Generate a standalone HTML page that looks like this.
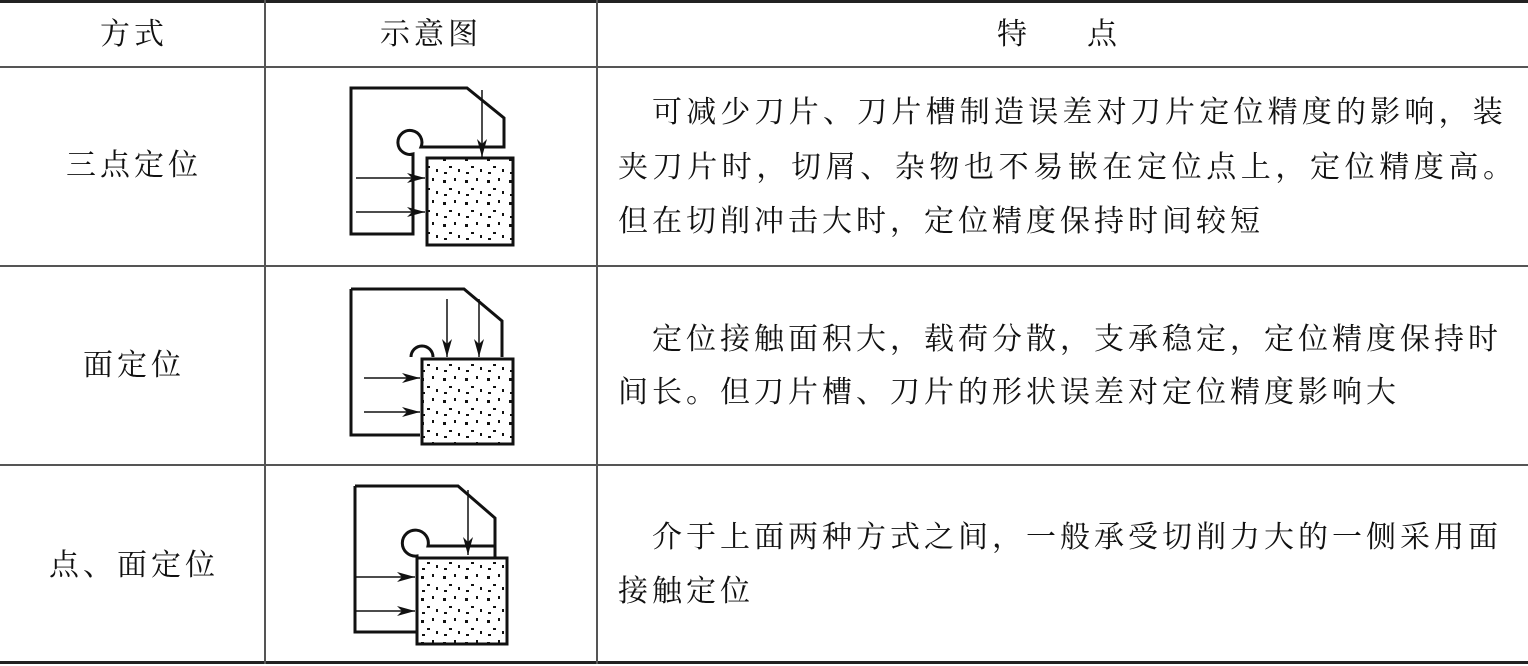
<!DOCTYPE html>
<html><head><meta charset="utf-8"><style>
body{margin:0;width:1528px;height:666px;background:#fff;position:relative;overflow:hidden;font-family:"Liberation Serif","Noto Serif CJK SC",serif;color:#111}
.t{position:absolute;font-size:30px;line-height:34px;white-space:nowrap;letter-spacing:4px}
.c{transform:translateX(-50%)}
.h{position:absolute;background:#222}
</style></head><body>
<div class="h" style="left:0;top:0;width:1528px;height:3px"></div>
<div class="h" style="left:0;top:66px;width:1528px;height:2px;background:#555"></div>
<div class="h" style="left:0;top:265px;width:1528px;height:2px;background:#555"></div>
<div class="h" style="left:0;top:464px;width:1528px;height:2px;background:#555"></div>
<div class="h" style="left:0;top:661px;width:1528px;height:3px"></div>
<div class="h" style="left:264px;top:0;width:2px;height:664px;background:#555"></div>
<div class="h" style="left:596px;top:0;width:2px;height:664px;background:#555"></div>

<div class="t c" style="left:134px;top:18px">方式</div>
<div class="t c" style="left:431px;top:18px">示意图</div>
<div class="t" style="left:997px;top:18px;letter-spacing:0">特&emsp;&emsp;点</div>

<div class="t c" style="left:134px;top:149px">三点定位</div>
<div class="t c" style="left:134px;top:349px">面定位</div>
<div class="t c" style="left:134px;top:549px">点、面定位</div>

<div class="t" style="left:652px;top:96px;letter-spacing:4.2px">可减少刀片、刀片槽制造误差对刀片定位精度的影响，装</div>
<div class="t" style="left:618px;top:151px;letter-spacing:4.6px">夹刀片时，切屑、杂物也不易嵌在定位点上，定位精度高。</div>
<div class="t" style="left:618px;top:205px">但在切削冲击大时，定位精度保持时间较短</div>
<div class="t" style="left:652px;top:323px">定位接触面积大，载荷分散，支承稳定，定位精度保持时</div>
<div class="t" style="left:618px;top:376px">间长。但刀片槽、刀片的形状误差对定位精度影响大</div>
<div class="t" style="left:652px;top:521px">介于上面两种方式之间，一般承受切削力大的一侧采用面</div>
<div class="t" style="left:618px;top:575px">接触定位</div>

<svg width="1528" height="666" style="position:absolute;left:0;top:0" fill="none" stroke="#111">
<defs>
<marker id="a" markerWidth="18" markerHeight="10" refX="18" refY="5" orient="auto" markerUnits="userSpaceOnUse"><path d="M0,0 L18,5 L0,10 L5,5z" fill="#111" stroke="none"/></marker>
<pattern id="d" width="22" height="22" patternUnits="userSpaceOnUse">
<rect x="3" y="4" width="3" height="3" fill="#111" stroke="none"/><rect x="14" y="2" width="2" height="3" fill="#111" stroke="none"/><rect x="9" y="12" width="3" height="2" fill="#111" stroke="none"/><rect x="18" y="15" width="2" height="3" fill="#111" stroke="none"/><rect x="4" y="18" width="3" height="2" fill="#111" stroke="none"/></pattern>
</defs>
<g stroke-width="3">
<path d="M351,88 H467 L504,118 V147 H421 A12,12 0 1 0 413,154 V234 H351 Z"/>
<rect x="427" y="158" width="86" height="87" fill="url(#d)"/>
<path d="M351,289 H464 L502,321 V357 M420,435 H351 V289"/>
<path d="M411,357 A11,11 0 1 1 433,357"/>
<rect x="422" y="359" width="91" height="85" fill="url(#d)"/>
<path d="M355,486 H458 L495,518 V557 M495,546 H428 A13,13 0 1 0 417,556 V632 H355 V486"/>
<rect x="417" y="558" width="90" height="86" fill="url(#d)"/>
</g>
<g stroke-width="1.5" marker-end="url(#a)">
<path d="M482,90 V157"/><path d="M356,178 H425"/><path d="M356,212 H425"/>
<path d="M447,299 V357"/><path d="M479,299 V357"/><path d="M364,378 H420"/><path d="M364,412 H420"/>
<path d="M468,490 V555"/><path d="M355,577 H415"/><path d="M355,611 H415"/>
</g>
</svg>
</body></html>
